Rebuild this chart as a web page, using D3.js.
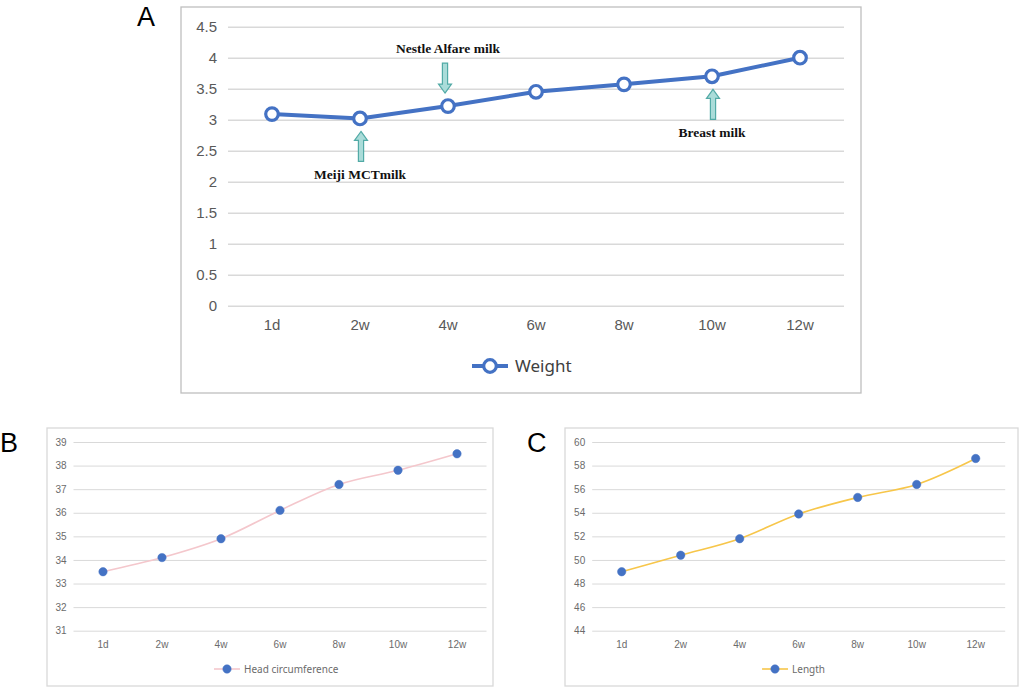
<!DOCTYPE html>
<html>
<head>
<meta charset="utf-8">
<script src="https://cdn.jsdelivr.net/npm/d3@7"></script>
<style>
  body { margin: 0; background: #fff; }
  svg { display: block; font-family: "Noto Sans", "Open Sans", sans-serif; }
</style>
</head>
<body>
<div id="chart"></div>
<script>
const categories = ["1d", "2w", "4w", "6w", "8w", "10w", "12w"];
const weight = [3.09, 3.02, 3.22, 3.45, 3.57, 3.70, 4.00];
const headCircumference = [33.5, 34.1, 34.9, 36.1, 37.2, 37.8, 38.5];
const bodyLength = [49.0, 50.4, 51.8, 53.9, 55.3, 56.4, 58.6];
const weightTicks = [0, 0.5, 1, 1.5, 2, 2.5, 3, 3.5, 4, 4.5];
const headTicks = [31, 32, 33, 34, 35, 36, 37, 38, 39];
const lengthTicks = [44, 46, 48, 50, 52, 54, 56, 58, 60];
const milkNotes = [
  { at: "2w", label: "Meiji MCTmilk", side: "below" },
  { at: "4w", label: "Nestle Alfare milk", side: "above" },
  { at: "10w", label: "Breast milk", side: "below" }
];

const svg = d3.select("#chart").append("svg")
  .attr("width", 1022)
  .attr("height", 690);

svg.append("rect").attr("width", 1022).attr("height", 690).attr("fill", "#fff");

// draws one framed excel-like line panel, returns the scales
function drawPanel(opt) {
  const g = svg.append("g");
  g.append("rect")
    .attr("x", opt.box.x).attr("y", opt.box.y)
    .attr("width", opt.box.w).attr("height", opt.box.h)
    .attr("fill", "#fff")
    .attr("stroke", opt.boxStroke)
    .attr("stroke-width", 1.3);

  const x = d3.scaleBand().domain(categories).range([opt.plot.l, opt.plot.r]).padding(0);
  const y = d3.scaleLinear().domain(d3.extent(opt.ticks)).range([opt.plot.b, opt.plot.t]);
  const cx = (c) => x(c) + x.bandwidth() / 2;

  // gridlines + y labels
  const yAxis = g.append("g")
    .attr("transform", `translate(${opt.plot.l},0)`)
    .call(d3.axisLeft(y).tickValues(opt.ticks)
      .tickSize(-(opt.plot.r - opt.plot.l))
      .tickPadding(opt.yPad)
      .tickFormat(d3.format("")));
  yAxis.select(".domain").remove();
  yAxis.selectAll("line").attr("stroke", "#d9d9d9").attr("stroke-width", opt.gridWidth);
  yAxis.selectAll("text")
    .attr("fill", opt.tickColor)
    .style("font-size", opt.tickSize + "px");

  // x labels
  const xAxis = g.append("g")
    .attr("transform", `translate(0,${opt.plot.b})`)
    .call(d3.axisBottom(x).tickSize(0).tickPadding(opt.xPad));
  xAxis.select(".domain").remove();
  xAxis.selectAll("text")
    .attr("fill", opt.tickColor)
    .style("font-size", opt.tickSize + "px");

  const line = d3.line()
    .x((d, i) => cx(categories[i]))
    .y((d) => y(d))
    .curve(opt.curve);

  g.append("path")
    .datum(opt.values)
    .attr("d", line)
    .attr("fill", "none")
    .attr("stroke", opt.lineColor)
    .attr("stroke-width", opt.lineWidth)
    .attr("stroke-linejoin", "round");

  g.selectAll(".pt")
    .data(opt.values)
    .enter()
    .append("circle")
    .attr("class", "pt")
    .attr("cx", (d, i) => cx(categories[i]))
    .attr("cy", (d) => y(d))
    .attr("r", opt.markerR)
    .attr("fill", opt.markerFill)
    .attr("stroke", opt.markerStroke)
    .attr("stroke-width", opt.markerStrokeWidth);

  // legend
  const lg = g.append("g").attr("transform", `translate(${opt.legend.x},${opt.legend.y})`);
  lg.append("line")
    .attr("x1", -opt.legend.half).attr("x2", opt.legend.half)
    .attr("stroke", opt.lineColor).attr("stroke-width", opt.lineWidth);
  lg.append("circle")
    .attr("r", opt.markerR)
    .attr("fill", opt.markerFill)
    .attr("stroke", opt.markerStroke)
    .attr("stroke-width", opt.markerStrokeWidth);
  lg.append("text")
    .attr("x", opt.legend.half + opt.legend.gap)
    .attr("dy", "0.35em")
    .attr("fill", opt.legend.color)
    .style("font-size", opt.legend.size + "px")
    .text(opt.name);

  // panel letter
  svg.append("text")
    .attr("x", opt.letter.x).attr("y", opt.letter.y)
    .attr("fill", "#000")
    .style("font-family", "'Liberation Sans', Arial, sans-serif")
    .style("font-size", "27px")
    .text(opt.letter.t);

  return { g, x, y, cx };
}

const A = drawPanel({
  name: "Weight",
  values: weight,
  ticks: weightTicks,
  box: { x: 181, y: 7, w: 680, h: 386 },
  boxStroke: "#bfbfbf",
  plot: { l: 228, r: 844, t: 26.7, b: 305.7 },
  yPad: 11, xPad: 14,
  gridWidth: 1.5,
  tickColor: "#595959", tickSize: 15,
  lineColor: "#4472c4", lineWidth: 4,
  curve: d3.curveLinear,
  markerR: 6.3, markerFill: "#fff", markerStroke: "#4472c4", markerStrokeWidth: 3.2,
  legend: { x: 490, y: 366, half: 18, gap: 7, size: 17, color: "#404040" },
  letter: { x: 137, y: 26, t: "A" }
});

// feeding annotations on panel A
milkNotes.forEach((n) => {
  const i = categories.indexOf(n.at);
  const px = A.cx(n.at);
  const py = A.y(weight[i]);
  const down = n.side === "above";
  const ax = px + (down ? -3 : 1);
  const tip = down ? py - 13 : py + 13;
  const len = 30, head = 9, sw = 2.6, hw = 6.5;
  const s = down ? -1 : 1; // direction from tip to tail
  const p = d3.path();
  p.moveTo(ax, tip);
  p.lineTo(ax + hw, tip + s * head);
  p.lineTo(ax + sw, tip + s * head);
  p.lineTo(ax + sw, tip + s * len);
  p.lineTo(ax - sw, tip + s * len);
  p.lineTo(ax - sw, tip + s * head);
  p.lineTo(ax - hw, tip + s * head);
  p.closePath();
  A.g.append("path")
    .attr("d", p.toString())
    .attr("fill", "#aadcd9")
    .attr("stroke", "#52aaa6")
    .attr("stroke-width", 1.2);
  A.g.append("text")
    .attr("x", px)
    .attr("y", down ? tip - len - 10 : tip + len + 18)
    .attr("text-anchor", "middle")
    .attr("fill", "#111")
    .style("font-family", "'Liberation Serif', 'Times New Roman', serif")
    .style("font-weight", "bold")
    .style("font-size", "13.5px")
    .text(n.label);
});

drawPanel({
  name: "Head circumference",
  values: headCircumference,
  ticks: headTicks,
  box: { x: 47, y: 428, w: 446, h: 258 },
  boxStroke: "#d9d9d9",
  plot: { l: 73.5, r: 486.5, t: 442, b: 630.7 },
  yPad: 7, xPad: 10,
  gridWidth: 1,
  tickColor: "#6b6b6b", tickSize: 10,
  lineColor: "#f4c7cc", lineWidth: 1.6,
  curve: d3.curveCatmullRom.alpha(0.5),
  markerR: 4.2, markerFill: "#4472c4", markerStroke: "#4472c4", markerStrokeWidth: 0.5,
  legend: { x: 227, y: 669, half: 13, gap: 4, size: 10, color: "#6b6b6b" },
  letter: { x: 0, y: 452, t: "B" }
});

drawPanel({
  name: "Length",
  values: bodyLength,
  ticks: lengthTicks,
  box: { x: 565, y: 428, w: 453, h: 258 },
  boxStroke: "#d9d9d9",
  plot: { l: 592.2, r: 1005.2, t: 442, b: 630.7 },
  yPad: 7, xPad: 10,
  gridWidth: 1,
  tickColor: "#6b6b6b", tickSize: 10,
  lineColor: "#f7c64a", lineWidth: 1.6,
  curve: d3.curveCatmullRom.alpha(0.5),
  markerR: 4.2, markerFill: "#4472c4", markerStroke: "#4472c4", markerStrokeWidth: 0.5,
  legend: { x: 775, y: 669, half: 13, gap: 4, size: 10, color: "#6b6b6b" },
  letter: { x: 527, y: 452, t: "C" }
});
</script>
</body>
</html>
